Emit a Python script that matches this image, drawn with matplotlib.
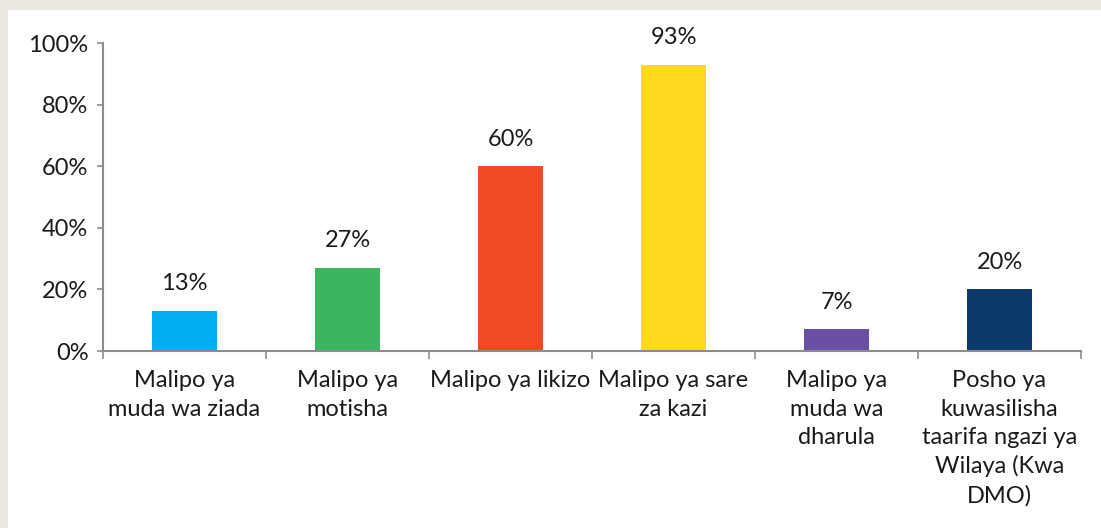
import numpy as np
import matplotlib.pyplot as plt
from matplotlib.patches import Rectangle

plt.rcParams['font.family'] = ['Lato', 'DejaVu Sans']

categories = ['Malipo ya\nmuda wa ziada', 'Malipo ya\nmotisha', 'Malipo ya likizo',
              'Malipo ya sare\nza kazi', 'Malipo ya\nmuda wa\ndharula',
              'Posho ya\nkuwasilisha\ntaarifa ngazi ya\nWilaya (Kwa\nDMO)']
values = [13, 27, 60, 93, 7, 20]
colors = ['#00B0F0', '#3DB560', '#EE4B24', '#FFD920', '#6A4FA5', '#0E3A6B']

fig = plt.figure(figsize=(11.01, 5.28), dpi=100)
fig.patch.set_facecolor('#ECE9E2')
fig.patches.append(Rectangle((8 / 1101, 0), 1, 1 - 10 / 528,
                             transform=fig.transFigure, facecolor='white',
                             edgecolor='none', zorder=-5))

ax = fig.add_axes([103 / 1101, 1 - 351 / 528, (1081 - 103) / 1101, (351 - 43) / 528])
ax.set_facecolor('none')
x = np.arange(len(categories))
ax.bar(x, values, width=0.4, color=colors)
for xi, v in zip(x, values):
    ax.annotate(f'{v}%', (xi, v), xytext=(0, 12), textcoords='offset points',
                ha='center', va='bottom', fontsize=17, color='#1a1a1a')

ax.set_xlim(-0.5, len(categories) - 0.5)
ax.set_ylim(0, 100)
ax.set_yticks(range(0, 101, 20))
ax.set_yticklabels([f'{t}%' for t in range(0, 101, 20)])
ax.set_xticks(x)
ax.set_xticklabels(categories, fontsize=17, color='#1a1a1a', linespacing=1.42)
ax.set_xticks(np.arange(-0.5, len(categories)), minor=True)
ax.tick_params(axis='x', which='major', length=0, pad=14)
ax.tick_params(axis='x', which='minor', length=6, width=1.2, color='#8C8C8C')
ax.tick_params(axis='y', length=4.5, width=1.2, color='#8C8C8C', labelsize=17,
               labelcolor='#1a1a1a', pad=6)
for s in ['top', 'right']:
    ax.spines[s].set_visible(False)
for s in ['left', 'bottom']:
    ax.spines[s].set_color('#8C8C8C')
    ax.spines[s].set_linewidth(1.5)

fig.savefig('out.png', dpi=100, facecolor=fig.get_facecolor())
